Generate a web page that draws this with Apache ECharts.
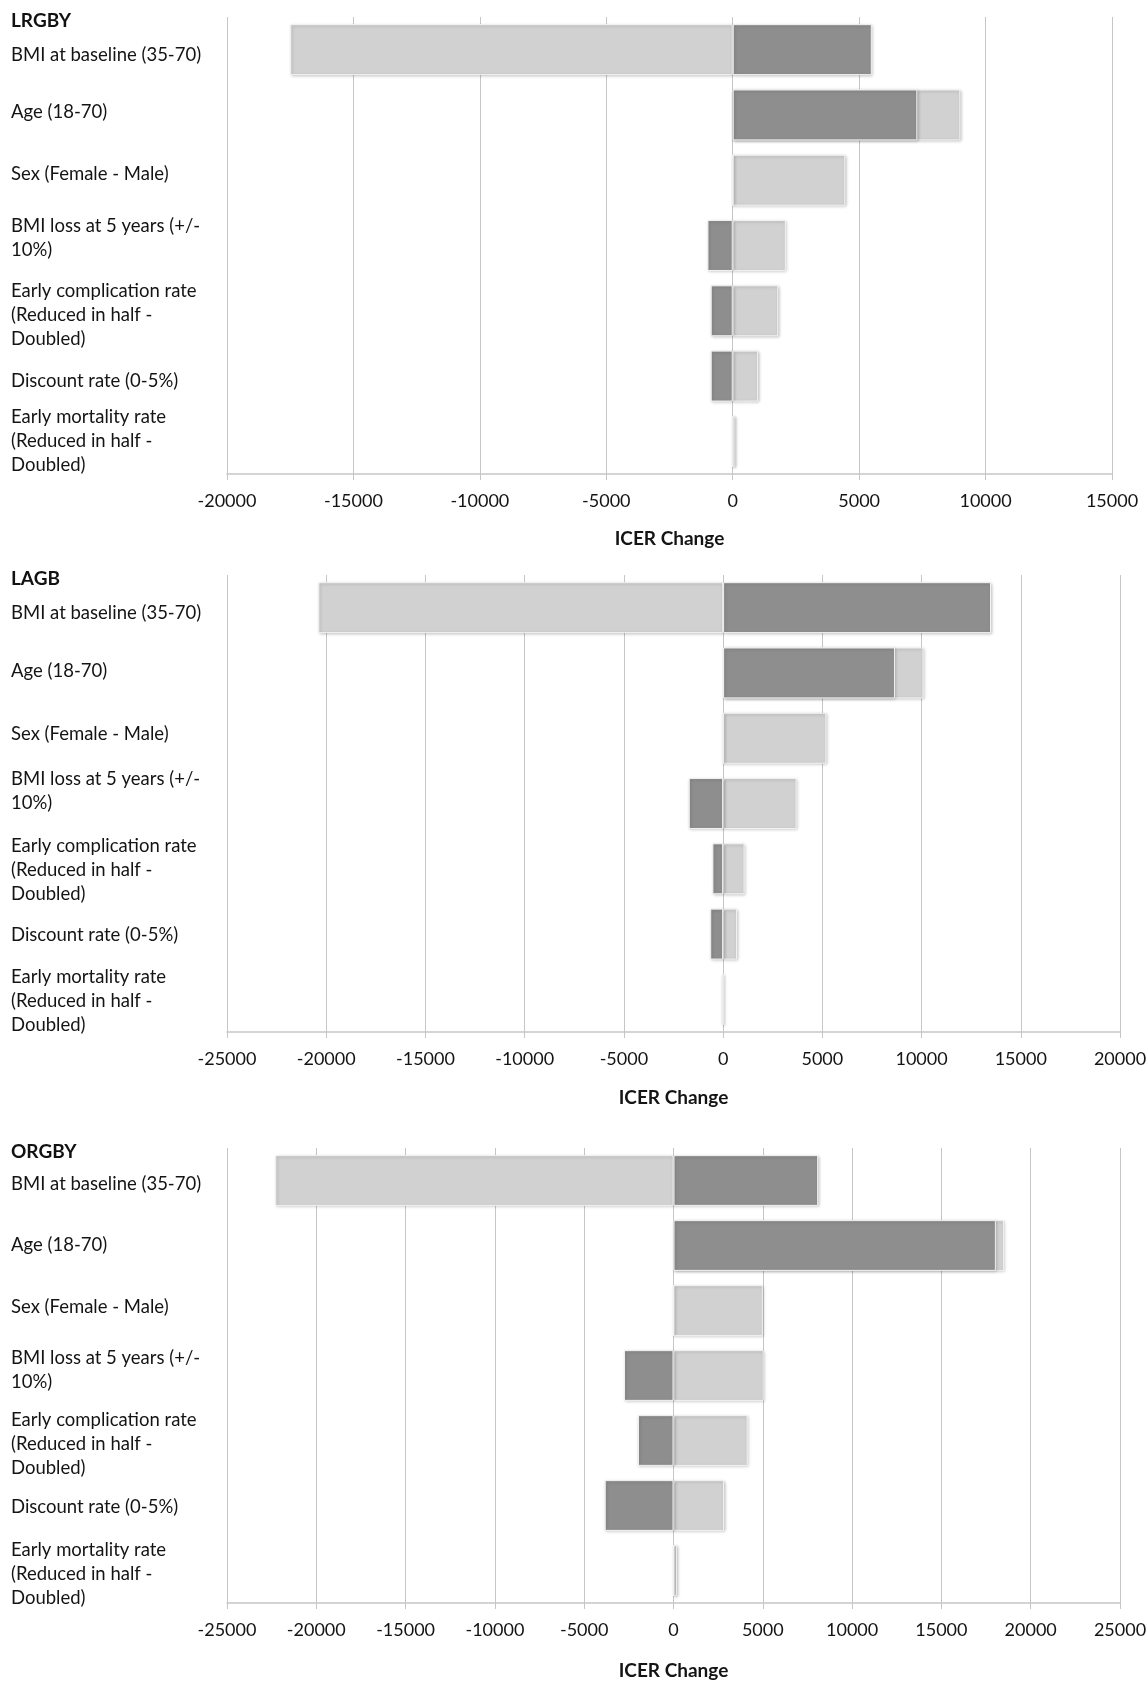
<!DOCTYPE html>
<html><head><meta charset="utf-8">
<script src="https://cdn.jsdelivr.net/npm/echarts@6/dist/echarts.min.js"></script>
<style>html,body{margin:0;padding:0;background:#fff}#c{width:1148px;height:1682px}</style>
</head><body><div id="c"></div>
<script>
// ---- data ----
const categories = [
  'BMI at baseline (35-70)',
  'Age (18-70)',
  'Sex (Female - Male)',
  'BMI loss at 5 years (+/-\n10%)',
  'Early complication rate\n(Reduced in half -\nDoubled)',
  'Discount rate (0-5%)',
  'Early mortality rate\n(Reduced in half -\nDoubled)'
];
const panelTitles = ['LRGBY', 'LAGB', 'ORGBY'];
const lrgbyLight = [-17500, 9000, 4450, 2100, 1800, 1000, 100];
const lrgbyDark  = [5500, 7300, 0, -1000, -870, -870, 0];
const lagbLight  = [-20400, 10100, 5200, 3700, 1080, 700, -60];
const lagbDark   = [13500, 8660, 0, -1730, -540, -650, 0];
const orgbyLight = [-22300, 18500, 5000, 5050, 4150, 2830, 200];
const orgbyDark  = [8100, 18050, 0, -2770, -1990, -3850, 0];
const axisMin = [-20000, -25000, -25000];
const axisMax = [15000, 20000, 25000];
const axisInterval = 5000;
const axisName = 'ICER Change';

// ---- layout ----
const lightSets = [lrgbyLight, lagbLight, orgbyLight];
const darkSets = [lrgbyDark, lagbDark, orgbyDark];
const grids = [
  {left: 227, width: 885, top: 17, height: 457, outerBoundsMode: 'none'},
  {left: 227, width: 893, top: 575, height: 457, outerBoundsMode: 'none'},
  {left: 227, width: 893, top: 1148, height: 455, outerBoundsMode: 'none'}
];
const titleTops = [11, 569, 1142];
const nameGaps = [55, 56, 58];
// vertical nudge of each category label (px, + = down)
const labelShift = [
  [5, -3, -6, -7, 4, 5, 0],
  [5, -2, -4, -12, 1, 1, 2],
  [4, 0, -3, -5, 4, 2, 4]
];
const FONT = 'Lato, "Noto Sans", sans-serif';
const gridColor = '#c6c6c6';
const textColor = '#141414';

const option = {
  animation: false,
  backgroundColor: '#ffffff',
  title: panelTitles.map((t, i) => ({
    text: t, left: 11, top: titleTops[i], padding: 0,
    textStyle: {fontFamily: FONT, fontWeight: 'bold', fontSize: 19, color: '#111'}
  })),
  grid: grids,
  xAxis: grids.map((g, i) => ({
    type: 'value', gridIndex: i, min: axisMin[i], max: axisMax[i], interval: axisInterval,
    axisLine: {show: true, lineStyle: {color: gridColor, width: 1.5}},
    axisTick: {show: true, length: 6, lineStyle: {color: gridColor}},
    splitLine: {show: true, lineStyle: {color: gridColor, width: 1}},
    axisLabel: {fontFamily: FONT, fontSize: 18, color: textColor, margin: 18, formatter: (v) => String(v)},
    name: axisName, nameLocation: 'middle', nameGap: nameGaps[i],
    nameTextStyle: {fontFamily: FONT, fontWeight: 'bold', fontSize: 19, color: textColor}
  })),
  yAxis: grids.map((g, i) => {
    const rich = {t: {fontFamily: FONT, fontSize: 18.5, lineHeight: 24, color: textColor}};
    for (let k = 1; k <= 20; k++) rich['s' + k] = {fontSize: 1, lineHeight: 2 * k};
    return {
      type: 'category', gridIndex: i, inverse: true, data: categories,
      axisLine: {show: false}, axisTick: {show: false}, splitLine: {show: false},
      axisLabel: {
        align: 'left', margin: 216, fontFamily: FONT, fontSize: 18.5, lineHeight: 24, color: textColor,
        rich: rich,
        formatter: function (value, index) {
          const s = labelShift[i][index] || 0;
          const lines = String(value).split('\n').map(l => '{t|' + l + '}');
          const sp = '{s' + Math.abs(s) + '| }';
          if (s > 0) lines.unshift(sp);
          if (s < 0) lines.push(sp);
          return lines.join('\n');
        }
      }
    };
  }),
  series: []
};
const barStyle = (c) => ({
  color: c, borderColor: '#f2f2f2', borderWidth: 1,
  shadowColor: 'rgba(0,0,0,0.22)', shadowBlur: 3, shadowOffsetX: 1, shadowOffsetY: 1
});
for (let i = 0; i < 3; i++) {
  option.series.push({
    type: 'bar', name: panelTitles[i] + ' light', xAxisIndex: i, yAxisIndex: i,
    data: lightSets[i], barWidth: '78%', barGap: '-100%', itemStyle: barStyle('#d0d1d0')
  });
  option.series.push({
    type: 'bar', name: panelTitles[i] + ' dark', xAxisIndex: i, yAxisIndex: i,
    data: darkSets[i], barWidth: '78%', barGap: '-100%', itemStyle: barStyle('#8e8e8e')
  });
}
const chart = echarts.init(document.getElementById('c'));
chart.setOption(option);
</script></body></html>
